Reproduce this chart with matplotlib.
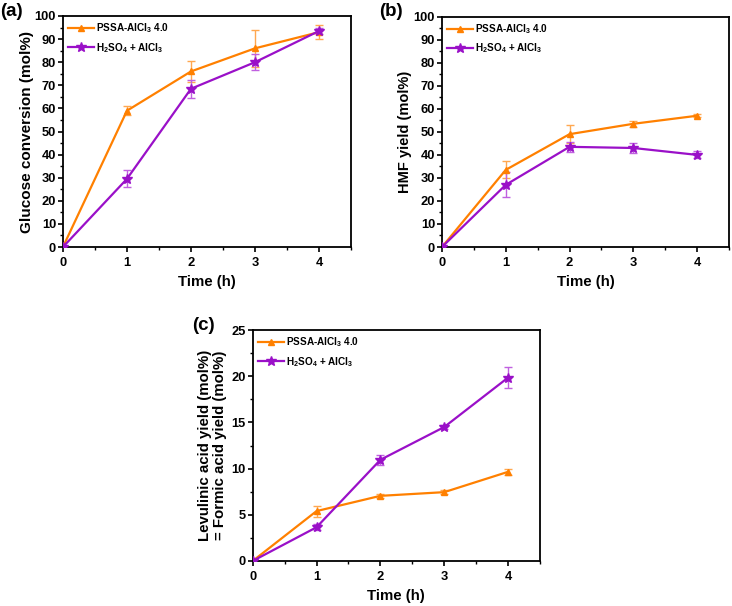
import numpy as np
import matplotlib
matplotlib.use("Agg")
import matplotlib.pyplot as plt
from matplotlib.ticker import MultipleLocator

plt.rcParams["font.family"] = ["Liberation Sans", "DejaVu Sans"]
plt.rcParams["font.weight"] = "bold"
plt.rcParams["mathtext.fontset"] = "custom"
plt.rcParams["mathtext.rm"] = "Liberation Sans:bold"
plt.rcParams["mathtext.bf"] = "Liberation Sans:bold"
plt.rcParams["mathtext.it"] = "Liberation Sans:bold"

# ── Data ──────────────────────────────────────────────────────────────────
time_h = [0, 1, 2, 3, 4]

conv_pssa     = [0, 59.0, 76.0, 86.0, 93.0]
conv_pssa_err = [0, 2.0, 4.5, 8.0, 3.0]
conv_h2so4     = [0, 29.5, 68.5, 80.0, 93.5]
conv_h2so4_err = [0, 3.7, 4.0, 3.5, 1.5]

hmf_pssa     = [0, 33.5, 49.0, 53.5, 57.0]
hmf_pssa_err = [0, 3.7, 4.0, 1.2, 0.6]
hmf_h2so4     = [0, 27.0, 43.5, 43.0, 40.0]
hmf_h2so4_err = [0, 5.5, 2.2, 2.0, 1.5]

la_pssa     = [0, 5.4, 7.05, 7.45, 9.65]
la_pssa_err = [0, 0.6, 0.2, 0.2, 0.35]
la_h2so4     = [0, 3.65, 10.95, 14.5, 19.85]
la_h2so4_err = [0, 0.35, 0.55, 0.2, 1.15]

ORANGE = "#FF8000"
PURPLE = "#9A10C8"
ORANGE_ERR = "#FFA850"
PURPLE_ERR = "#C060E0"

LBL_PSSA = r"PSSA-AlCl$_{3}$ 4.0"
LBL_H2SO4 = r"H$_{2}$SO$_{4}$ + AlCl$_{3}$"

fig = plt.figure(figsize=(7.32, 6.06), dpi=100)

# axes boxes in figure fraction (left, bottom, width, height)
positions = {
    "a": [0.086, 0.5924, 0.3935, 0.3812],
    "b": [0.6038, 0.5924, 0.3921, 0.3800],
    "c": [0.3452, 0.0743, 0.3925, 0.3811],
}


def draw_panel(key, pssa, pssa_err, h2so4, h2so4_err, ymax, ymaj, ymin,
               ylabel, ylab_size, ylab_x):
    ax = fig.add_axes(positions[key])
    ax.errorbar(time_h, pssa, yerr=pssa_err, fmt="none", ecolor=ORANGE_ERR,
                elinewidth=1.0, capsize=3, capthick=1.0, zorder=2)
    ax.errorbar(time_h, h2so4, yerr=h2so4_err, fmt="none", ecolor=PURPLE_ERR,
                elinewidth=1.0, capsize=3, capthick=1.0, zorder=2)
    ax.plot(time_h, pssa, color=ORANGE, marker="^", markersize=5,
            linewidth=1.6, label=LBL_PSSA, zorder=3)
    ax.plot(time_h, h2so4, color=PURPLE, marker="*", markersize=7.5,
            linewidth=1.6, label=LBL_H2SO4, zorder=4)
    ax.set_xlim(0, 4.5)
    ax.set_ylim(0, ymax)
    ax.xaxis.set_major_locator(MultipleLocator(1))
    ax.xaxis.set_minor_locator(MultipleLocator(0.5))
    ax.yaxis.set_major_locator(MultipleLocator(ymaj))
    ax.yaxis.set_minor_locator(MultipleLocator(ymin))
    ax.tick_params(which="major", direction="out", length=3.5, width=1.2,
                   labelsize=9.3)
    ax.tick_params(axis="y", which="major", pad=1.5)
    ax.tick_params(which="minor", direction="out", length=2.2, width=1.0)
    for lab in ax.get_xticklabels() + ax.get_yticklabels():
        lab.set_fontweight("bold")
    for sp in ax.spines.values():
        sp.set_linewidth(1.3)
    ax.set_xlabel("Time (h)", fontsize=10.8, fontweight="bold")
    ax.xaxis.set_label_coords(0.5, -0.122)
    ax.set_ylabel(ylabel, fontsize=ylab_size, fontweight="bold",
                  linespacing=1.1, va="center")
    ax.yaxis.set_label_coords(ylab_x, 0.5)
    leg = ax.legend(loc="upper left", frameon=False, fontsize=7.2,
                    handlelength=2.6, handletextpad=0.15, borderaxespad=0.15,
                    labelspacing=0.55)
    for t in leg.get_texts():
        t.set_fontweight("bold")
    return ax


draw_panel("a", conv_pssa, conv_pssa_err, conv_h2so4, conv_h2so4_err,
           100, 10, 5, "Glucose conversion (mol%)", 11, -0.125)
draw_panel("b", hmf_pssa, hmf_pssa_err, hmf_h2so4, hmf_h2so4_err,
           100, 10, 5, "HMF yield (mol%)", 10.5, -0.129)
draw_panel("c", la_pssa, la_pssa_err, la_h2so4, la_h2so4_err,
           25, 5, 2.5, "Levulinic acid yield (mol%)\n= Formic acid yield (mol%)",
           10.8, -0.14)

fig.text(0.0, 1 - 12 / 606, "(a)", fontsize=13.5, fontweight="bold", va="center")
fig.text(379 / 732, 1 - 12 / 606, "(b)", fontsize=13.5, fontweight="bold", va="center")
fig.text(192 / 732, 1 - 325 / 606, "(c)", fontsize=13.5, fontweight="bold", va="center")

fig.savefig("out.png", dpi=100)
